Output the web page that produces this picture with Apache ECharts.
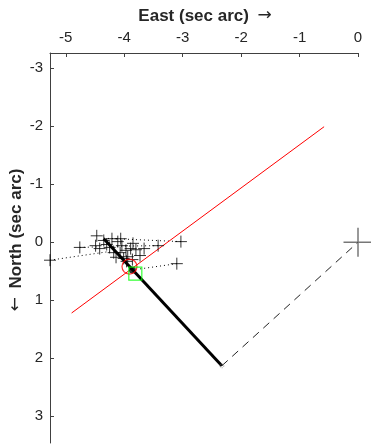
<!DOCTYPE html>
<html>
<head>
<meta charset="utf-8">
<script src="https://cdn.jsdelivr.net/npm/echarts@6/dist/echarts.min.js"></script>
<style>
  html, body { margin: 0; padding: 0; background: #fff; }
  #chart { width: 371px; height: 444px; }
</style>
</head>
<body>
<div id="chart"></div>
<script>
// Tick positions (sec arc)
const eastTicks = [-5, -4, -3, -2, -1, 0];
const northTicks = [-3, -2, -1, 0, 1, 2, 3];

// Individual measurements (plus markers)
const obsEast  = [-5.27, -4.76, -4.47, -4.49, -4.35, -4.21, -4.11, -4.06, -4.42, -4.25,
                  -4.18, -4.07, -3.97, -3.89, -3.94, -3.80, -3.73, -3.66, -3.42, -3.03,
                  -3.10, -4.14, -4.01, -4.30, -4.04, -3.85, -3.96, -3.86];
const obsNorth = [ 0.31,  0.09, -0.11,  0.06, -0.03, -0.06, -0.01, -0.06,  0.11,  0.09,
                   0.18,  0.18,  0.14,  0.11,  0.25,  0.13,  0.23,  0.11,  0.06, -0.01,
                   0.37,  0.26,  0.28,  0.04,  0.06,  0.02,  0.33,  0.30];

// Residual connectors: measurement -> predicted position
const resStartEast  = [-5.27, -4.76, -3.42, -3.03, -3.10];
const resStartNorth = [ 0.31,  0.09,  0.06, -0.01,  0.37];
const resEndEast    = [-4.25, -4.42, -4.30, -4.39, -3.73];
const resEndNorth   = [ 0.16,  0.08,  0.07, -0.07,  0.46];

// Companion track
const trackEast  = [-4.35, -2.33];
const trackNorth = [-0.06,  2.13];

// Reference line
const refEast  = [-4.90, -0.58];
const refNorth = [ 1.22, -1.99];

// Offset from primary
const offsetEast  = [-2.33, 0];
const offsetNorth = [ 2.13, 0];

// Special positions
const primaryEast = [0], primaryNorth = [0];
const circleEast = [-3.91], circleNorth = [0.42];
const squareEast = [-3.81], squareNorth = [0.54];
const blobEast = [-3.86], blobNorth = [0.48];

const zip = (a, b) => a.map((v, i) => [v, b[i]]);

const plusPath = 'path://M0,5L10,5M5,0L5,10';

const series = [];

// residual dotted connectors
resStartEast.forEach((_, i) => {
  series.push({
    type: 'line',
    data: [[resStartEast[i], resStartNorth[i]], [resEndEast[i], resEndNorth[i]]],
    showSymbol: false,
    lineStyle: { color: '#000', width: 1, type: [1, 3] },
    silent: true, z: 2
  });
});

series.push({
  type: 'line',
  data: zip(refEast, refNorth),
  showSymbol: false,
  lineStyle: { color: '#ff0000', width: 1 },
  z: 3
});

series.push({
  type: 'line',
  data: zip(offsetEast, offsetNorth),
  showSymbol: false,
  lineStyle: { color: '#222', width: 1, type: [8, 6] },
  z: 3
});

series.push({
  type: 'line',
  data: zip(trackEast, trackNorth),
  showSymbol: false,
  lineStyle: { color: '#000', width: 3 },
  z: 4
});

series.push({
  type: 'scatter',
  data: zip(obsEast, obsNorth),
  symbol: plusPath,
  symbolSize: 12,
  clip: false,
  itemStyle: { color: 'none', borderColor: '#000', borderWidth: 1 },
  z: 5
});

series.push({
  type: 'scatter',
  data: zip(blobEast, blobNorth),
  symbol: 'circle',
  symbolSize: 7,
  itemStyle: { color: '#000' },
  z: 5
});

series.push({
  type: 'scatter',
  data: zip(circleEast, circleNorth),
  symbol: 'circle',
  symbolSize: 15,
  itemStyle: { color: 'none', borderColor: '#ff0000', borderWidth: 1.2 },
  z: 6
});

series.push({
  type: 'scatter',
  data: zip(squareEast, squareNorth),
  symbol: 'rect',
  symbolSize: 13,
  itemStyle: { color: 'none', borderColor: '#00ff00', borderWidth: 1.2 },
  z: 6
});

series.push({
  type: 'scatter',
  data: [[offsetEast[0], offsetNorth[0]]],
  symbol: 'circle',
  symbolSize: 4,
  itemStyle: { color: 'none', borderColor: '#888', borderWidth: 1, borderType: 'dotted' },
  z: 6
});

series.push({
  type: 'scatter',
  data: zip(primaryEast, primaryNorth),
  symbol: plusPath,
  symbolSize: 29,
  clip: false,
  itemStyle: { color: 'none', borderColor: '#555', borderWidth: 1.5 },
  z: 6
});

const axisColor = '#404040';
const labelColor = '#262626';
const fontFamily = 'Arial, "Liberation Sans", Helvetica, sans-serif';
const titleRich = {
  t: { font: 'bold 17px ' + fontFamily, fill: labelColor },
  a: { font: '17px "DejaVu Sans", sans-serif', fill: labelColor }
};

const chart = echarts.init(document.getElementById('chart'), null, { renderer: 'canvas' });
chart.setOption({
  animation: false,
  backgroundColor: '#fff',
  grid: { left: 50, top: 53, width: 308, height: 390, containLabel: false },
  xAxis: {
    type: 'value',
    position: 'top',
    min: -5.27,
    max: 0,
    axisLine: { show: true, onZero: false, lineStyle: { color: axisColor, width: 1 } },
    axisTick: { show: true, inside: true, length: 4, customValues: eastTicks, lineStyle: { color: axisColor } },
    axisLabel: { customValues: eastTicks, color: labelColor, fontSize: 15, fontFamily, margin: 8 },
    splitLine: { show: false }
  },
  yAxis: {
    type: 'value',
    position: 'left',
    inverse: true,
    min: -3.26,
    max: 3.46,
    axisLine: { show: true, onZero: false, lineStyle: { color: axisColor, width: 1 } },
    axisTick: { show: true, inside: true, length: 4, customValues: northTicks, lineStyle: { color: axisColor } },
    axisLabel: { customValues: northTicks, color: labelColor, fontSize: 15, fontFamily, margin: 7 },
    splitLine: { show: false }
  },
  graphic: [
    {
      type: 'text',
      x: 205, y: 16,
      style: {
        text: '{t|East (sec arc)\u2002}{a|\u2192}',
        rich: titleRich,
        align: 'center',
        verticalAlign: 'middle'
      }
    },
    {
      type: 'text',
      x: 16, y: 240,
      rotation: Math.PI / 2,
      style: {
        text: '{a|\u2190\u2002}{t|North (sec arc)}',
        rich: titleRich,
        align: 'center',
        verticalAlign: 'middle'
      }
    }
  ],
  series
});
</script>
</body>
</html>
